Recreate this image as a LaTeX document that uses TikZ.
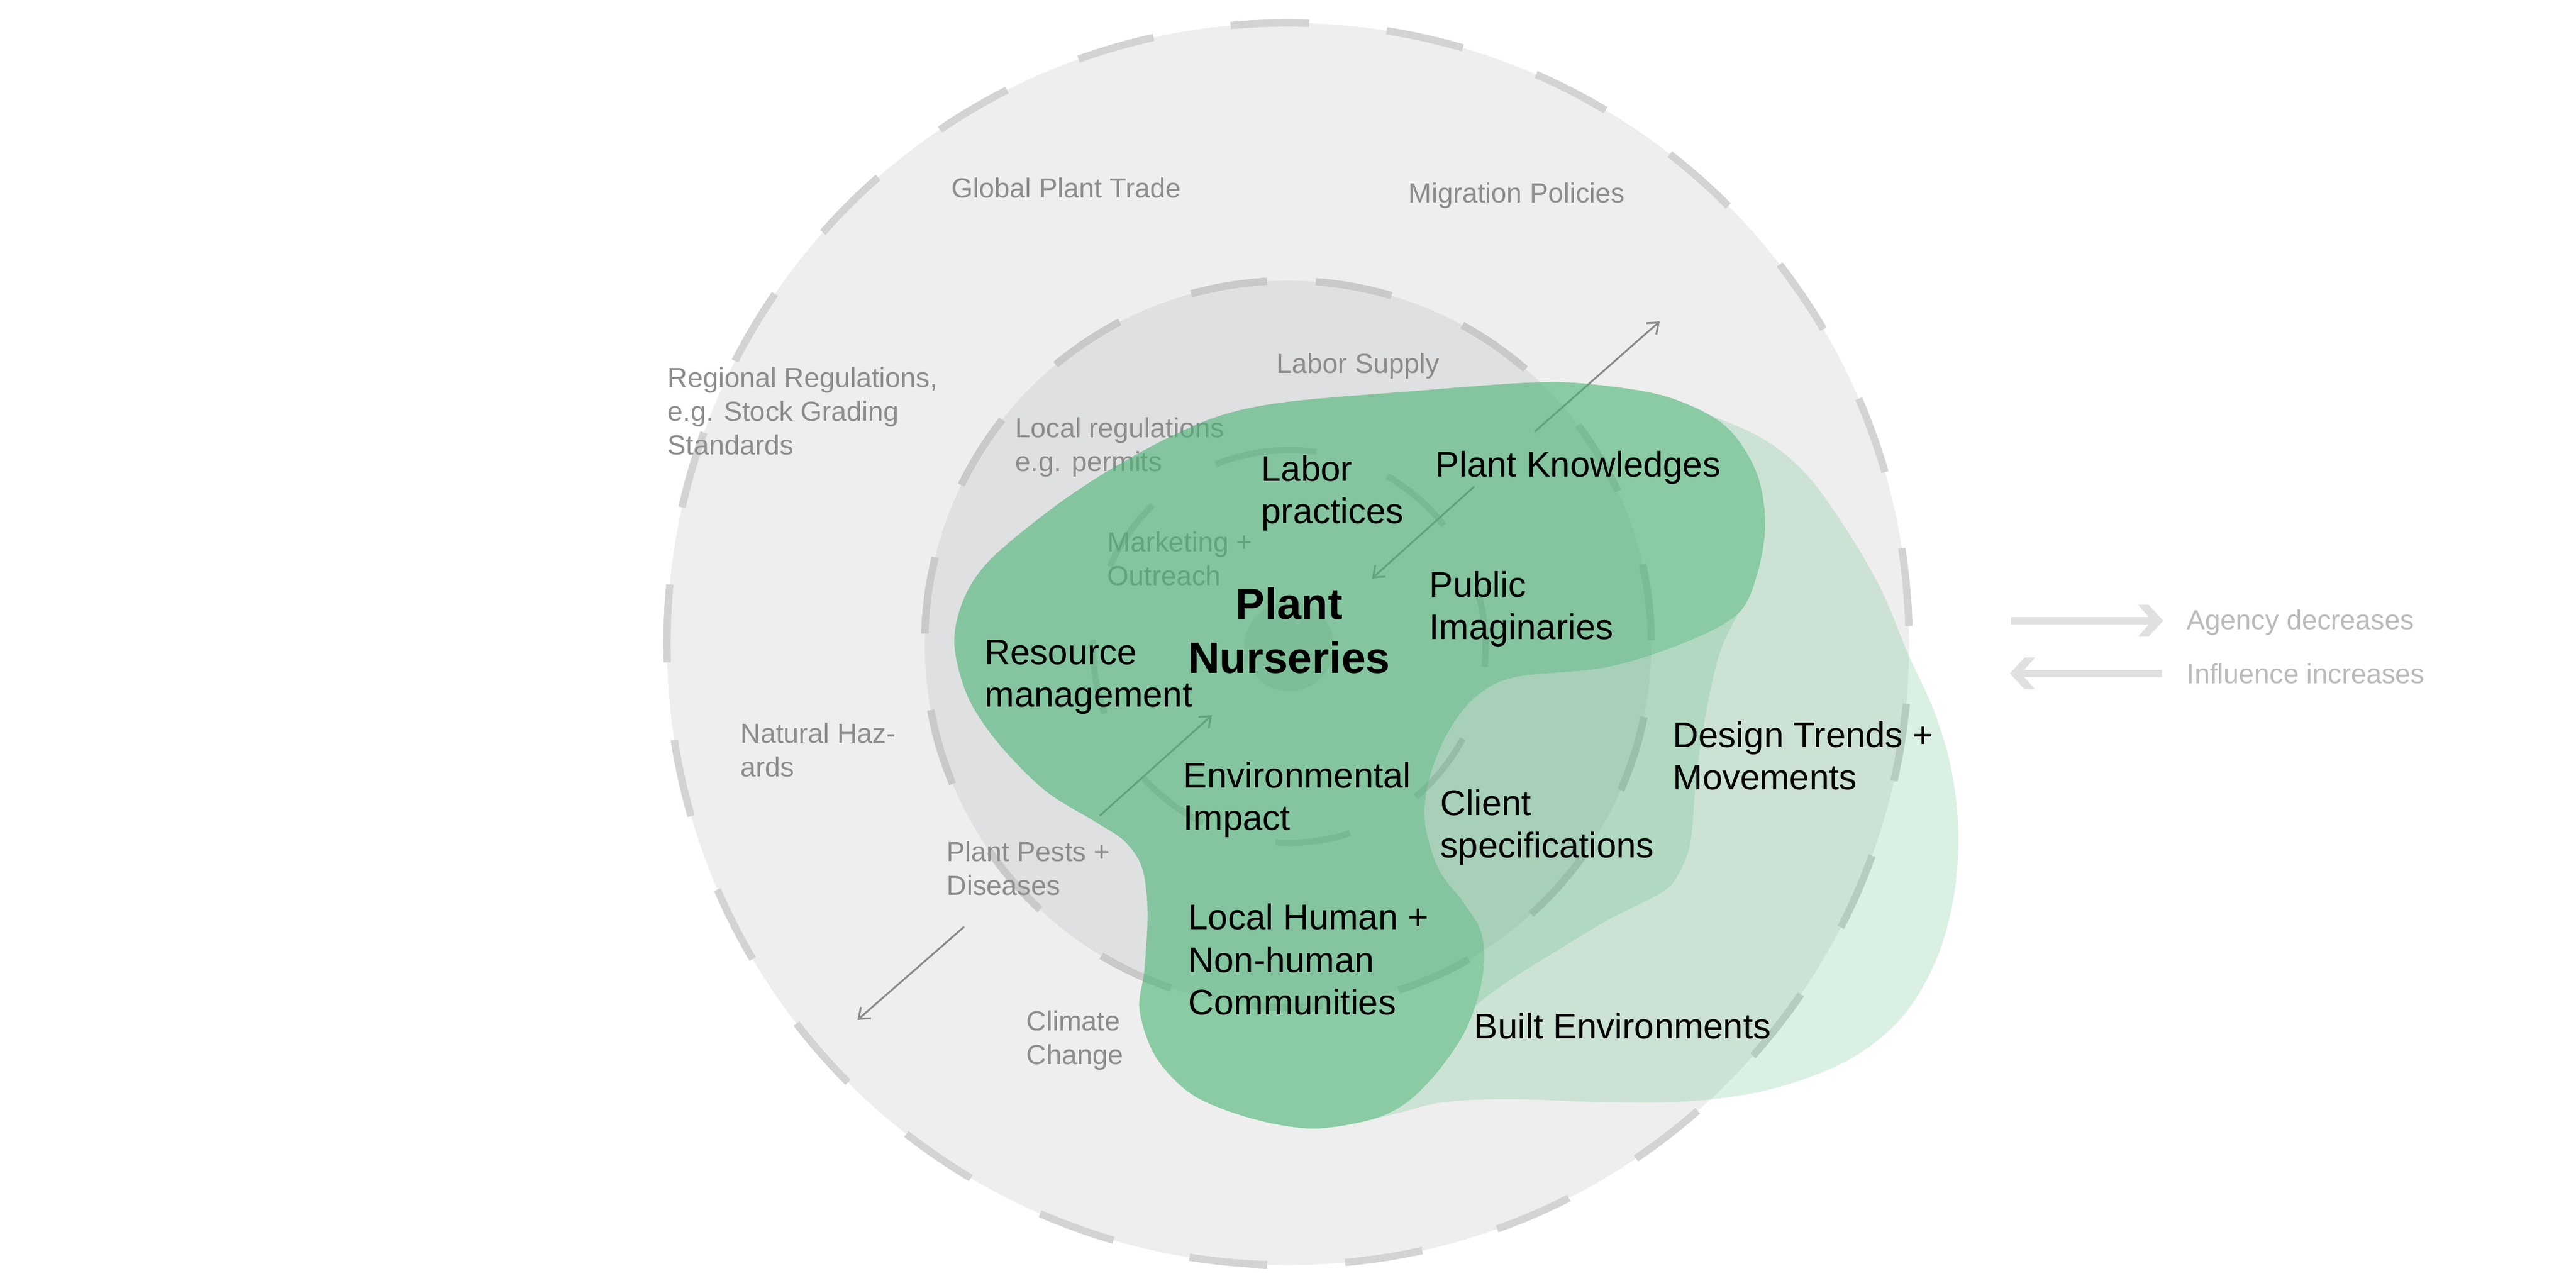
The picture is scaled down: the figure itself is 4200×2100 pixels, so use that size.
\documentclass[tikz,border=0pt]{standalone}
\usepackage{fontspec}
\setmainfont{Liberation Sans}
\usetikzlibrary{arrows.meta}
\definecolor{outerfill}{HTML}{EDEEED}
\definecolor{midfill}{HTML}{DFE0E1}
\definecolor{outerdash}{HTML}{D3D3D3}
\definecolor{middash}{HTML}{C9C9CA}
\definecolor{innerdash}{HTML}{C2C2C3}
\definecolor{corefill}{HTML}{CDCECF}
\definecolor{greytxt}{HTML}{8C8C8C}
\definecolor{arrowgrey}{HTML}{8A8A8A}
\definecolor{leaf}{HTML}{48B474}
\definecolor{legendgrey}{HTML}{E0E0E0}
\definecolor{legendtxt}{HTML}{BBBBBB}
\newcommand\twoL[2]{\vtop{\hbox{#1}\hbox{#2}}}
\newcommand\threeL[3]{\vtop{\hbox{#1}\hbox{#2}\hbox{#3}}}
\newcommand\mainblobpath{plot[smooth cycle, tension=0.55] coordinates {
  (1556,1049) (1572,975) (1615,912) (1714,830) (1806,768) (1908,712) (1995,676) (2100,655)
  (2300,638) (2490,624) (2590,626) (2715,646) (2810,692) (2862,766) (2878,850) (2866,932)
  (2834,1000) (2746,1048) (2619,1088) (2470,1104) (2405,1137) (2360,1195) (2330,1270)
  (2323,1340) (2345,1416) (2385,1470) (2413,1515) (2420,1565) (2410,1625) (2385,1688)
  (2340,1752) (2290,1800) (2233,1826) (2140,1840) (2042,1824) (1946,1786) (1885,1724)
  (1858,1647) (1866,1580) (1871,1485) (1862,1415) (1834,1372) (1786,1340) (1704,1289)
  (1628,1212) (1578,1136)}}
\begin{document}
\begin{tikzpicture}[x=0.01cm,y=-0.01cm,
  blk/.style={font=\fontsize{16.5}{19.9}\selectfont, text=black, anchor=base west, inner sep=0pt},
  gry/.style={font=\fontsize{12.8}{15.65}\selectfont, text=greytxt, anchor=base west, inner sep=0pt},
  legtxt/.style={font=\fontsize{12.8}{15.65}\selectfont, text=legendtxt, anchor=base west, inner sep=0pt},
  corelab/.style={font=\bfseries\fontsize{20.3}{25.3}\selectfont, text=black, anchor=base, inner sep=0pt},
  thinarrow/.style={draw=arrowgrey, line width=0.85pt, -{Straight Barb[length=4.5pt,width=7pt]}},
  legshaft/.style={draw=legendgrey, line width=3.4pt},
  legtip/.style={fill=legendgrey},
  outerring/.style={draw=outerdash, line width=3.4pt, dash pattern=on 1.2717cm off 1.2717cm},
  midring/.style={draw=middash, line width=3.4pt, dash pattern=on 1.2554cm off 1.2554cm},
  innerring/.style={draw=innerdash, line width=2.9pt, dash pattern=on 1.229cm off 1.229cm},
  mainblob/.style={fill=leaf, fill opacity=0.6},
  lightblob/.style={fill=leaf, fill opacity=0.2}
]
\useasboundingbox (0,0) rectangle (4200,2100);
\fill[white] (0,0) rectangle (4200,2100);
\coordinate (C) at (2100,1050);
\coordinate (Ci) at (2102,1054);
% rings
\fill[outerfill] (C) circle[radius=10.12cm];
\fill[midfill] (C) circle[radius=5.92cm];
\path[outerring] (C) ++(88.1:10.12cm) arc[start angle=88.1, delta angle=360, radius=10.12cm];
\path[midring] (C) ++(93.3:5.92cm) arc[start angle=93.3, delta angle=360, radius=5.92cm];
\fill[corefill] (Ci) circle[radius=0.73cm];
\path[innerring] (Ci) ++(90:3.2cm) arc[start angle=90, delta angle=360, radius=3.2cm];
% grey labels
\node[gry] (global) at (1551,322) {Global Plant Trade};
\node[gry] (migration) at (2296,330) {Migration Policies};
\node[gry] (regional) at (1088,631) {\threeL{Regional Regulations,}{e.g. Stock Grading}{Standards}};
\node[gry] (laborsupply) at (2081,608) {Labor Supply};
\node[gry] (localreg) at (1655,713) {\twoL{Local regulations}{e.g. permits}};
\node[gry] (marketing) at (1805,899) {\twoL{Marketing +}{Outreach}};
\node[gry] (natural) at (1207,1211) {\twoL{Natural Haz-}{ards}};
\node[gry] (pests) at (1543,1404) {\twoL{Plant Pests +}{Diseases}};
\node[gry] (climate) at (1673,1680) {\twoL{Climate}{Change}};
% thin arrows
\coordinate (a1s) at (2502,704);
\coordinate (a1e) at (2706,524);
\coordinate (a2s) at (2404,793);
\coordinate (a2e) at (2237,943);
\coordinate (a3s) at (1793,1330);
\coordinate (a3e) at (1976,1166);
\coordinate (a4s) at (1572,1511);
\coordinate (a4e) at (1398,1663);
\draw[thinarrow] (a1s) -- (a1e);
\draw[thinarrow] (a2s) -- (a2e);
\draw[thinarrow] (a3s) -- (a3e);
\draw[thinarrow] (a4s) -- (a4e);
% light shapes, kept outside the main shape
\begin{scope}[even odd rule]
\clip (-10,-10) rectangle (4210,2110) \mainblobpath;
\path[lightblob] plot[smooth, tension=0.6] coordinates {(2740,660) (2861,708) (2938,766) (3001,849) (3065,957) (3110,1064) (3155,1164) (3183,1263) (3193,1371) (3182,1480) (3150,1580) (3095,1665) (3010,1730) (2890,1775) (2760,1795) (2620,1797) (2460,1792) (2354,1797) (2290,1812) (2220,1830)}
  -- plot[smooth, tension=0.6] coordinates {(2250,1700) (2280,1500) (2260,1300) (2300,1150) (2450,1050) (2650,1000) (2780,900) (2780,760)} -- cycle;
\path[lightblob] plot[smooth, tension=0.6] coordinates {(2840,990) (2804,1064) (2778,1180) (2764,1283) (2756,1374) (2735,1428) (2706,1457) (2623,1499) (2540,1549) (2437,1615) (2360,1680)}
  -- plot[smooth, tension=0.6] coordinates {(2330,1560) (2290,1400) (2280,1250) (2330,1150) (2450,1060) (2650,1030) (2790,960)} -- cycle;
\end{scope}
% main green shape
\path[mainblob] \mainblobpath;
% black labels
\node[corelab] (nurseries) at (2102,1009) {\vtop{\halign{\hfil#\hfil\cr Plant\cr Nurseries\cr}}};
\node[blk] (labor) at (2056,784) {\twoL{Labor}{practices}};
\node[blk] (knowledge) at (2340,777) {Plant Knowledges};
\node[blk] (public) at (2330,973) {\twoL{Public}{Imaginaries}};
\node[blk] (resource) at (1605,1083) {\twoL{Resource}{management}};
\node[blk] (environ) at (1929,1284) {\twoL{Environmental}{Impact}};
\node[blk] (client) at (2348,1329) {\twoL{Client}{specifications}};
\node[blk] (design) at (2727,1218) {\twoL{Design Trends +}{Movements}};
\node[blk] (local) at (1937,1515) {\threeL{Local Human +}{Non-human}{Communities}};
\node[blk] (built) at (2403,1693) {Built Environments};
% legend
\coordinate (r1) at (3279,1012);
\coordinate (r2) at (3512,1012);
\coordinate (l1) at (3525,1098);
\coordinate (l2) at (3290,1098);
\draw[legshaft] (r1) -- (r2);
\fill[legtip] (3486,986) -- (3503,986) -- (3527,1012) -- (3503,1038) -- (3486,1038) -- (3509,1012) -- cycle;
\draw[legshaft] (l1) -- (l2);
\fill[legtip] (3318,1072) -- (3301,1072) -- (3277,1098) -- (3301,1124) -- (3318,1124) -- (3295,1098) -- cycle;
\node[legtxt] (agency) at (3565,1026) {Agency decreases};
\node[legtxt] (influence) at (3565,1114) {Influence increases};
\end{tikzpicture}
\end{document}
